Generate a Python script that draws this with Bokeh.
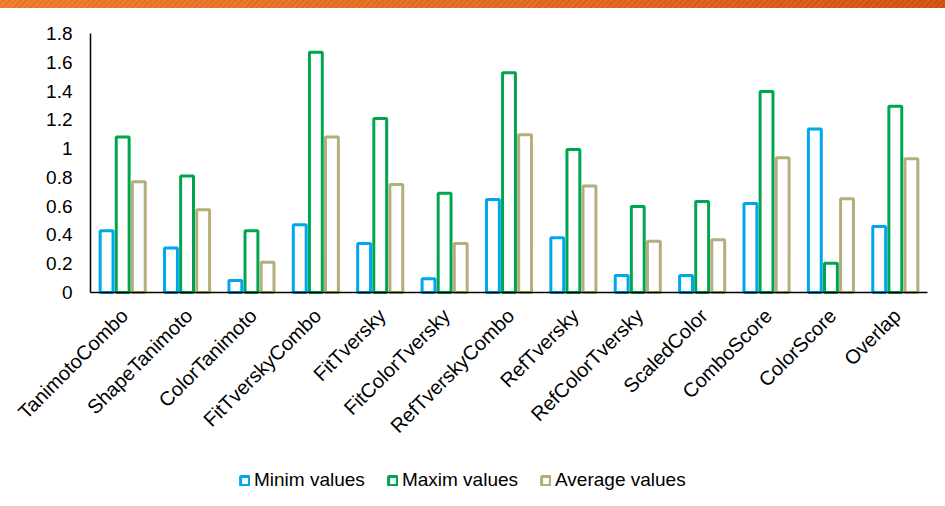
from math import pi
from bokeh.plotting import figure
from bokeh.models import ColumnDataSource, Legend, LegendItem, Range1d, InlineStyleSheet
from bokeh.core.properties import value
from bokeh.transform import dodge
from bokeh.embed import file_html
from bokeh.resources import INLINE

categories = ["TanimotoCombo", "ShapeTanimoto", "ColorTanimoto", "FitTverskyCombo",
              "FitTversky", "FitColorTversky", "RefTverskyCombo", "RefTversky",
              "RefColorTversky", "ScaledColor", "ComboScore", "ColorScore", "Overlap"]
min_values = [0.43, 0.31, 0.083, 0.47, 0.34, 0.095, 0.646, 0.38, 0.118, 0.118, 0.618, 1.137, 0.459]
max_values = [1.08, 0.81, 0.43, 1.67, 1.21, 0.69, 1.527, 0.994, 0.598, 0.632, 1.397, 0.204, 1.295]
avg_values = [0.77, 0.575, 0.21, 1.08, 0.75, 0.34, 1.096, 0.74, 0.357, 0.366, 0.936, 0.651, 0.929]
y_ticks = [0, 0.2, 0.4, 0.6, 0.8, 1, 1.2, 1.4, 1.6, 1.8]
y_tick_labels = ["0", "0.2", "0.4", "0.6", "0.8", "1", "1.2", "1.4", "1.6", "1.8"]
series_names = ["Minim values", "Maxim values", "Average values"]
series_colors = ["#00A6F0", "#00A64F", "#B5AD7C"]

N = len(categories)
Y_MAX = y_ticks[-1]

# layout constants (pixels)
W, H = 935, 498
PLOT_LEFT, PLOT_RIGHT, PLOT_TOP, PLOT_ZERO = 90, 927, 33, 292
X_UNIT = (PLOT_RIGHT - PLOT_LEFT) / N
Y_UNIT = (PLOT_ZERO - PLOT_TOP) / Y_MAX

src = ColumnDataSource(dict(cat=categories, x=[i + 0.5 for i in range(N)],
                            mn=min_values, mx=max_values, av=avg_values, zero=[0] * N))
tick_src = ColumnDataSource(dict(y=y_ticks, label=y_tick_labels, x=[0] * len(y_ticks)))

FONT = "Liberation Sans"

p = figure(x_range=Range1d(-PLOT_LEFT / X_UNIT, (W - PLOT_LEFT) / X_UNIT),
           y_range=Range1d(-(H - PLOT_ZERO) / Y_UNIT, PLOT_ZERO / Y_UNIT),
           frame_width=W, frame_height=H, output_backend="svg", toolbar_location=None,
           min_border=0)
p.outline_line_color = None
p.grid.visible = False
p.axis.visible = False

r_min = p.vbar(x=dodge("x", -0.25), top="mn", width=0.2, source=src,
               fill_color="white", line_color=series_colors[0], line_width=3)
r_max = p.vbar(x=dodge("x", 0.0), top="mx", width=0.2, source=src,
               fill_color="white", line_color=series_colors[1], line_width=3)
r_avg = p.vbar(x=dodge("x", 0.25), top="av", width=0.2, source=src,
               fill_color="white", line_color=series_colors[2], line_width=3)

# axis lines
p.segment(x0=[0, 0], y0=[0, 0], x1=[N, 0], y1=[0, Y_MAX], line_color="black", line_width=1.5)

# value axis labels
p.text(x="x", y="y", text="label", source=tick_src, x_offset=-18,
       text_align="right", text_baseline="middle",
       text_font=value(FONT), text_font_size="19px", text_color="black")

# category labels, rotated 45 degrees, hanging below the baseline
p.text(x="x", y="zero", text="cat", source=src, angle=pi / 4,
       text_align="right", text_baseline="top", x_offset=-6, y_offset=12,
       text_font=value(FONT), text_font_size="20px", text_color="black")

legend = Legend(items=[LegendItem(label=series_names[0], renderers=[r_min]),
                       LegendItem(label=series_names[1], renderers=[r_max]),
                       LegendItem(label=series_names[2], renderers=[r_avg])],
                orientation="horizontal", location=(239, 7),
                glyph_width=11, glyph_height=11, label_standoff=4, spacing=22,
                label_text_font=FONT, label_text_font_size="19px", label_text_color="black",
                border_line_color=None, background_fill_alpha=0, margin=0, padding=4)
p.add_layout(legend)

band_css = InlineStyleSheet(css=""":host::before {
  content: '';
  position: fixed;
  top: 0; left: 0; width: 945px; height: 8px; z-index: 10;
  background: repeating-linear-gradient(135deg, rgba(255,255,255,0.06) 0px, rgba(255,255,255,0.06) 2px, rgba(0,0,0,0.03) 2px, rgba(0,0,0,0.03) 4px),
              linear-gradient(90deg, #EE7A2A, #E3661C 60%, #D5500F);
}""")
p.stylesheets = [band_css]

open("out.html", "w").write(file_html(p, INLINE))
